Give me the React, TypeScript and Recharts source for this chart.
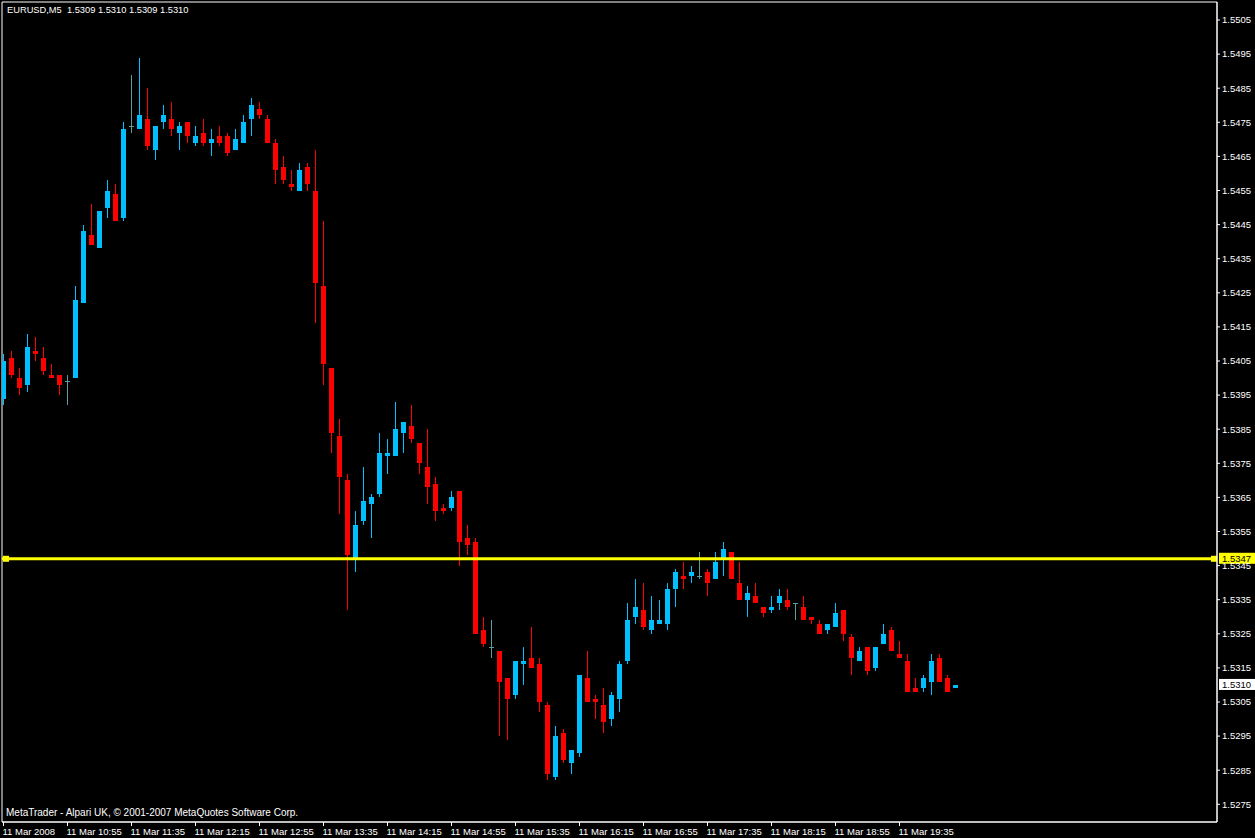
import React from "react";
import {
  ComposedChart,
  Bar,
  XAxis,
  YAxis,
  ReferenceLine,
  ReferenceArea,
} from "recharts";

// EURUSD M5, 11 Mar 2008, from 10:15 onward
const OPEN = [
  1.5394, 1.5406, 1.5400, 1.5398, 1.5408, 1.5406, 1.5401, 1.5401, 1.5399, 1.5400,
  1.5422, 1.5442, 1.5438, 1.5450, 1.5454, 1.5447, 1.5474, 1.5473, 1.5476, 1.5467,
  1.5475, 1.5476, 1.5472, 1.5475, 1.5469, 1.5472, 1.5469, 1.5471, 1.5471, 1.5467,
  1.5469, 1.5476, 1.5479, 1.5476, 1.5469, 1.5462, 1.5457, 1.5455, 1.5462, 1.5455,
  1.5427, 1.5403, 1.5383, 1.5370, 1.5347, 1.5358, 1.5363, 1.5366, 1.5377, 1.5377,
  1.5384, 1.5386, 1.5381, 1.5374, 1.5369, 1.5362, 1.5362, 1.5367, 1.5353, 1.5352,
  1.5326, 1.5321, 1.5320, 1.5312, 1.5307, 1.5316, 1.5318, 1.5316, 1.5304, 1.5283,
  1.5296, 1.5287, 1.5290, 1.5312, 1.5306, 1.5304, 1.5300, 1.5306, 1.5317, 1.5330,
  1.5332, 1.5326, 1.5328, 1.5328, 1.5338, 1.5342, 1.5342, 1.5342, 1.5343, 1.5341,
  1.5347, 1.5349, 1.5340, 1.5335, 1.5336, 1.5333, 1.5332, 1.5334, 1.5335, 1.5334,
  1.5333, 1.5330, 1.5328, 1.5326, 1.5327, 1.5332, 1.5324, 1.5317, 1.5321, 1.5315,
  1.5322, 1.5326, 1.5319, 1.5317, 1.5309, 1.5309, 1.5311, 1.5318, 1.5312, 1.5309,
];
const HIGH = [
  1.5407, 1.5408, 1.5403, 1.5413, 1.5412, 1.5409, 1.5404, 1.5401, 1.5401, 1.5427,
  1.5445, 1.5451, 1.5449, 1.5458, 1.5457, 1.5475, 1.5489, 1.5494, 1.5485, 1.5474,
  1.5480, 1.5481, 1.5475, 1.5475, 1.5474, 1.5476, 1.5473, 1.5474, 1.5472, 1.5473,
  1.5477, 1.5482, 1.5481, 1.5477, 1.5470, 1.5465, 1.5461, 1.5463, 1.5463, 1.5467,
  1.5446, 1.5403, 1.5388, 1.5372, 1.5361, 1.5374, 1.5366, 1.5384, 1.5382, 1.5393,
  1.5387, 1.5392, 1.5381, 1.5385, 1.5371, 1.5363, 1.5367, 1.5367, 1.5357, 1.5353,
  1.5330, 1.5329, 1.5320, 1.5312, 1.5317, 1.5321, 1.5327, 1.5318, 1.5305, 1.5298,
  1.5297, 1.5291, 1.5313, 1.5320, 1.5307, 1.5309, 1.5308, 1.5317, 1.5334, 1.5341,
  1.5340, 1.5336, 1.5335, 1.5340, 1.5344, 1.5346, 1.5345, 1.5349, 1.5344, 1.5349,
  1.5352, 1.5349, 1.5346, 1.5339, 1.5340, 1.5333, 1.5336, 1.5338, 1.5338, 1.5334,
  1.5336, 1.5330, 1.5329, 1.5328, 1.5334, 1.5332, 1.5325, 1.5321, 1.5321, 1.5321,
  1.5328, 1.5327, 1.5323, 1.5319, 1.5312, 1.5313, 1.5319, 1.5319, 1.5313, 1.5310,
];
const LOW = [
  1.5392, 1.5400, 1.5395, 1.5396, 1.5405, 1.5401, 1.5400, 1.5395, 1.5392, 1.5400,
  1.5422, 1.5439, 1.5438, 1.5447, 1.5446, 1.5446, 1.5472, 1.5473, 1.5467, 1.5464,
  1.5473, 1.5471, 1.5467, 1.5469, 1.5468, 1.5468, 1.5465, 1.5468, 1.5465, 1.5467,
  1.5469, 1.5471, 1.5476, 1.5469, 1.5457, 1.5457, 1.5455, 1.5455, 1.5455, 1.5416,
  1.5398, 1.5378, 1.5360, 1.5332, 1.5343, 1.5357, 1.5353, 1.5365, 1.5372, 1.5377,
  1.5378, 1.5381, 1.5372, 1.5363, 1.5358, 1.5360, 1.5361, 1.5345, 1.5348, 1.5325,
  1.5321, 1.5318, 1.5295, 1.5294, 1.5306, 1.5310, 1.5315, 1.5302, 1.5282, 1.5282,
  1.5287, 1.5284, 1.5289, 1.5305, 1.5300, 1.5296, 1.5298, 1.5302, 1.5316, 1.5328,
  1.5326, 1.5325, 1.5328, 1.5326, 1.5333, 1.5338, 1.5340, 1.5341, 1.5336, 1.5341,
  1.5342, 1.5341, 1.5335, 1.5330, 1.5334, 1.5330, 1.5331, 1.5332, 1.5332, 1.5329,
  1.5329, 1.5328, 1.5325, 1.5325, 1.5327, 1.5323, 1.5313, 1.5317, 1.5313, 1.5314,
  1.5322, 1.5320, 1.5318, 1.5308, 1.5308, 1.5308, 1.5307, 1.5311, 1.5308, 1.5309,
];
const CLOSE = [
  1.5405, 1.5401, 1.5397, 1.5409, 1.5407, 1.5402, 1.5400, 1.5398, 1.5399, 1.5423,
  1.5443, 1.5439, 1.5449, 1.5455, 1.5446, 1.5473, 1.5474, 1.5477, 1.5468, 1.5474,
  1.5477, 1.5473, 1.5474, 1.5471, 1.5471, 1.5469, 1.5470, 1.5469, 1.5466, 1.5470,
  1.5475, 1.5480, 1.5477, 1.5469, 1.5461, 1.5458, 1.5456, 1.5461, 1.5457, 1.5428,
  1.5404, 1.5384, 1.5371, 1.5348, 1.5357, 1.5364, 1.5365, 1.5378, 1.5378, 1.5385,
  1.5387, 1.5382, 1.5375, 1.5368, 1.5361, 1.5361, 1.5365, 1.5352, 1.5351, 1.5325,
  1.5322, 1.5321, 1.5311, 1.5306, 1.5317, 1.5317, 1.5315, 1.5305, 1.5284, 1.5295,
  1.5288, 1.5291, 1.5313, 1.5305, 1.5305, 1.5299, 1.5307, 1.5316, 1.5329, 1.5333,
  1.5327, 1.5329, 1.5329, 1.5338, 1.5343, 1.5341, 1.5343, 1.5342, 1.5340, 1.5346,
  1.5350, 1.5341, 1.5335, 1.5337, 1.5334, 1.5331, 1.5333, 1.5336, 1.5333, 1.5334,
  1.5329, 1.5329, 1.5325, 1.5328, 1.5331, 1.5325, 1.5318, 1.5320, 1.5314, 1.5321,
  1.5325, 1.5320, 1.5318, 1.5308, 1.5308, 1.5312, 1.5317, 1.5311, 1.5308, 1.5310,
];

const X_LABELS = [
  "11 Mar 2008", "11 Mar 10:55", "11 Mar 11:35", "11 Mar 12:15", "11 Mar 12:55",
  "11 Mar 13:35", "11 Mar 14:15", "11 Mar 14:55", "11 Mar 15:35", "11 Mar 16:15",
  "11 Mar 16:55", "11 Mar 17:35", "11 Mar 18:15", "11 Mar 18:55", "11 Mar 19:35",
];
const Y_TICKS = [
  1.5275, 1.5285, 1.5295, 1.5305, 1.5315, 1.5325, 1.5335, 1.5345, 1.5355, 1.5365,
  1.5375, 1.5385, 1.5395, 1.5405, 1.5415, 1.5425, 1.5435, 1.5445, 1.5455, 1.5465,
  1.5475, 1.5485, 1.5495, 1.5505,
];

const LEVEL = 1.5347;
const BID = 1.531;

const UP = "#00bfff";
const DOWN = "#ff0000";
const FLAT = "#5f9ea0";
const YELLOW = "#ffff00";
const FONT = "'Liberation Sans', Arial, sans-serif";
const FONT_SIZE = 9.5;

// 8px per bar, first bar centered just inside the left border
const X_DOMAIN: [number, number] = [-0.1875, 151.6875];
const Y_DOMAIN: [number, number] = [1.526981, 1.551028];

const data = OPEN.map((open, i) => ({
  idx: i,
  open,
  high: HIGH[i],
  low: LOW[i],
  close: CLOSE[i],
}));

const range = (d: { low: number; high: number }) => [d.low, d.high];

function Candle(props: any) {
  const { x, y, width, height, payload } = props;
  if (x == null || y == null || !payload) return null;
  const { open, high, low, close } = payload;
  const top = Math.min(y, y + height);
  const span = Math.abs(height);
  const k = high > low ? span / (high - low) : 0;
  const yOf = (p: number) => Math.round(top + (high - p) * k);
  const cx = Math.floor(x + width / 2 + 0.01);
  const color = close > open ? UP : close < open ? DOWN : FLAT;
  const yH = yOf(high);
  const yL = yOf(low);
  const yO = yOf(open);
  const yC = yOf(close);
  const bodyTop = Math.min(yO, yC);
  const bodyH = Math.max(1, Math.abs(yO - yC));
  return (
    <g>
      <rect x={cx} y={yH} width={1} height={Math.max(1, yL - yH)} fill={color} />
      <rect x={cx - 2} y={bodyTop} width={5} height={bodyH} fill={color} />
    </g>
  );
}

function TimeTick({ x, y, payload }: any) {
  return (
    <text
      x={x - 1}
      y={y + 8.5}
      fill="#fff"
      fontSize={FONT_SIZE}
      fontFamily={FONT}
      textAnchor="start"
    >
      {X_LABELS[Math.round(payload.value / 8)]}
    </text>
  );
}

function PriceTag({ viewBox, value, bg, handles }: any) {
  if (!viewBox) return null;
  const { x, y, width } = viewBox;
  const right = x + width;
  return (
    <g>
      {handles && (
        <>
          <rect x={x + 1} y={y - 3} width={6} height={6} fill={bg} />
          <rect x={right - 6} y={y - 3} width={6} height={6} fill={bg} />
        </>
      )}
      <rect x={right + 2} y={y - 6} width={36} height={11} fill={bg} />
      <text
        x={right + 5}
        y={y + 3.5}
        fill="#000"
        fontSize={FONT_SIZE}
        fontFamily={FONT}
      >
        {value.toFixed(4)}
      </text>
    </g>
  );
}

export default function App() {
  const last = data.length - 1;
  const header = `EURUSD,M5  ${OPEN[last].toFixed(4)} ${HIGH[last].toFixed(4)} ${LOW[last].toFixed(4)} ${CLOSE[last].toFixed(4)}`;

  return (
    <div style={{ position: "relative", width: 1255, height: 838, background: "#000" }}>
      <style>{`body{margin:0;background:#000}`}</style>
      <ComposedChart
        width={1255}
        height={838}
        data={data}
        margin={{ top: 2, right: 0, left: 2, bottom: 0 }}
      >
        <XAxis
          dataKey="idx"
          type="number"
          domain={X_DOMAIN}
          allowDataOverflow
          ticks={X_LABELS.map((_, k) => k * 8)}
          interval={0}
          height={16}
          tickSize={4}
          tickMargin={0}
          tick={<TimeTick />}
          axisLine={{ stroke: "#fff" }}
          tickLine={{ stroke: "#fff" }}
        />
        <YAxis
          orientation="right"
          type="number"
          domain={Y_DOMAIN}
          allowDataOverflow
          ticks={Y_TICKS}
          interval={0}
          width={38}
          tickSize={3}
          tickMargin={2}
          tickFormatter={(v: number) => v.toFixed(4)}
          tick={{ fill: "#fff", fontSize: FONT_SIZE, fontFamily: FONT }}
          axisLine={{ stroke: "#fff" }}
          tickLine={{ stroke: "#fff" }}
        />
        <ReferenceArea
          x1={X_DOMAIN[0]}
          x2={X_DOMAIN[1]}
          y1={Y_DOMAIN[0]}
          y2={Y_DOMAIN[1]}
          fill="none"
          stroke="#fff"
          strokeWidth={1}
          ifOverflow="visible"
        />
        <Bar
          dataKey={range}
          barSize={6}
          shape={<Candle />}
          isAnimationActive={false}
        />
        <ReferenceLine
          y={BID}
          stroke="none"
          ifOverflow="visible"
          label={<PriceTag value={BID} bg="#fff" />}
        />
        <ReferenceLine
          y={LEVEL}
          stroke={YELLOW}
          strokeWidth={3}
          ifOverflow="visible"
          label={<PriceTag value={LEVEL} bg={YELLOW} handles />}
        />
      </ComposedChart>
      <div
        style={{
          position: "absolute",
          left: 7,
          top: 5.5,
          color: "#fff",
          fontFamily: FONT,
          fontSize: 9.3,
          lineHeight: 1,
          whiteSpace: "pre",
        }}
      >
        {header}
      </div>
      <div
        style={{
          position: "absolute",
          left: 6,
          top: 808,
          color: "#fff",
          fontFamily: FONT,
          fontSize: 10,
          lineHeight: 1,
          whiteSpace: "pre",
        }}
      >
        MetaTrader - Alpari UK, © 2001-2007 MetaQuotes Software Corp.
      </div>
    </div>
  );
}
